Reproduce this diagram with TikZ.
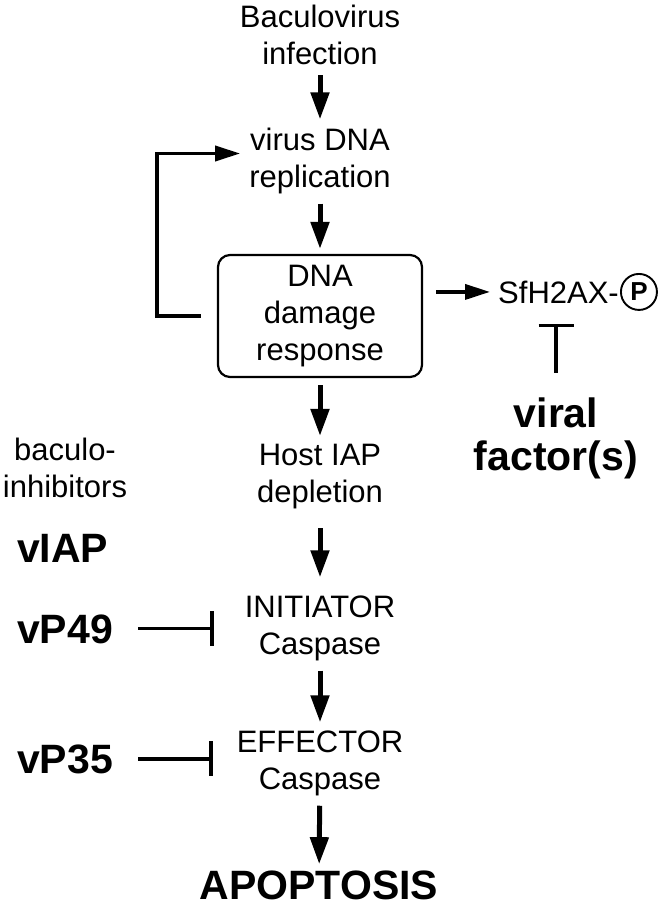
\documentclass[tikz,border=0pt]{standalone}
\usepackage{fontspec}
\setmainfont{Liberation Sans}
\usetikzlibrary{arrows.meta,positioning}
\tikzset{
  stage/.style={align=center, font=\fontsize{31}{37}\selectfont, inner sep=3pt},
  agent/.style={align=center, font=\bfseries\fontsize{41}{43}\selectfont, inner sep=3pt},
  flow/.style={line width=5pt, -{Triangle[length=27pt,width=18pt]}, shorten <=7pt, shorten >=5pt},
  thinflow/.style={line width=3.6pt, -{Triangle[length=25pt,width=15pt]}},
  block/.style={line width=3.2pt, -{Bar[width=35pt]}},
}

\begin{document}
\begin{tikzpicture}[x=1pt, y=-1pt]
          \useasboundingbox (0,0) rectangle (666,909);

          % main cascade
          \node[stage] (inf) at (320,35) {Baculovirus\\infection};
          \node[stage] (rep) at (320,160.5) {virus DNA\\replication};
          \node[stage, draw, line width=2.2pt, rounded corners=12pt,
                minimum width=204pt, minimum height=122pt] (ddr) at (320,316) {DNA\\damage\\response};
          \node[stage] (host) at (320,476.5) {Host IAP\\depletion};
          \node[stage] (init) at (320,628) {INITIATOR\\Caspase};
          \node[stage] (eff) at (320,763) {EFFECTOR\\Caspase};
          \node[agent, anchor=base] (apop) at (319,899) {APOPTOSIS};

          \draw[flow] (inf) -- (rep);
          \draw[flow] (rep) -- (ddr);
          \draw[flow] (ddr) -- (host);
          \draw[flow, shorten <=16pt, shorten >=15pt] (host) -- (init);
          \draw[flow] (init) -- (eff);
          \draw[flow, shorten >=3pt] (eff) -- (apop);

          % feedback and phosphorylation
          \draw[thinflow, shorten <=16pt, shorten >=6pt] (ddr.west) -- ++(-60,0) |- ([yshift=7pt]rep.west);
          \node[stage, anchor=base west] (sfh) at (495,303) {SfH2AX-};
          \node[draw, circle, line width=1.9pt, minimum size=36pt, inner sep=0pt,
                font=\bfseries\fontsize{26}{26}\selectfont, right=-2pt of sfh] (phos) {P};
          \draw[thinflow, shorten <=13pt, shorten >=5pt] (ddr.east |- sfh.west) -- (sfh.west);

          \node[agent] (viral) at (556,438.5) {viral\\factor(s)};
          \draw[block, shorten <=22pt, shorten >=17pt] (viral) -- (viral |- sfh.south);

          % baculovirus inhibitors
          \node[stage] (baculo) at (65,468) {baculo-\\inhibitors};
          \node[agent, anchor=base west] (viap) at (14,562) {vIAP};
          \node[agent, anchor=base west] (vp49) at (14,643) {vP49};
          \node[agent, anchor=base west] (vp35) at (14,773) {vP35};
          \draw[block, shorten <=22pt, shorten >=28pt] (vp49.east) -- (vp49.east -| init.west);
          \draw[block, shorten <=22pt, shorten >=21pt] (vp35.east) -- (vp35.east -| eff.west);
\end{tikzpicture}
\end{document}
